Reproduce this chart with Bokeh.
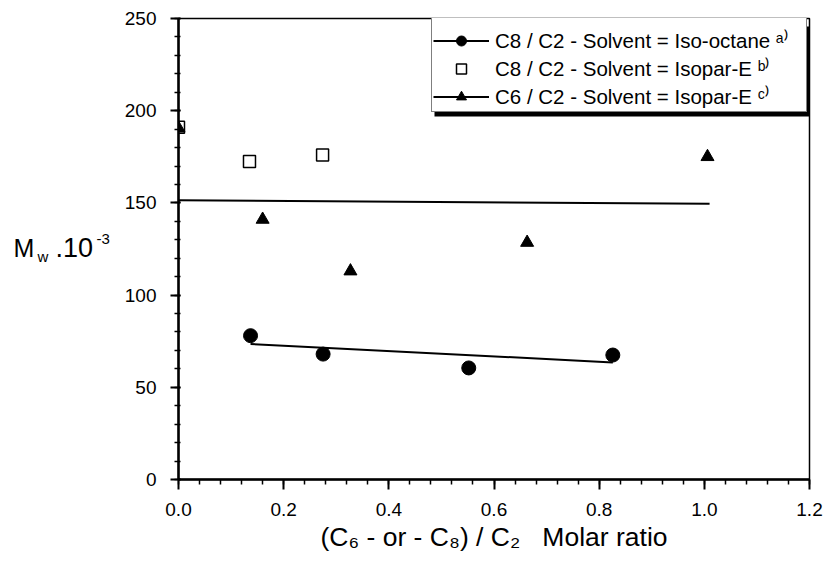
from bokeh.plotting import figure
from bokeh.models import (Range1d, Legend, LegendItem, Label, BoxAnnotation,
                          FixedTicker, CustomJSTickFormatter)
from bokeh.embed import file_html
from bokeh.resources import INLINE

# ---- data ----
iso_x = [0.137, 0.275, 0.552, 0.826]          # C8/C2, solvent iso-octane
iso_y = [78.0, 68.0, 60.5, 67.5]
iso_fit_x = [0.137, 0.826]
iso_fit_y = [73.5, 63.5]

isopar_c8_x = [0.0, 0.135, 0.274]             # C8/C2, solvent Isopar-E
isopar_c8_y = [191.0, 172.5, 176.0]

c6_x = [0.0, 0.16, 0.327, 0.663, 1.006]      # C6/C2, solvent Isopar-E
c6_y = [190.5, 141.0, 113.0, 128.5, 175.0]
c6_fit_x = [0.0, 1.01]
c6_fit_y = [151.5, 149.5]

labels = ["C8 / C2 - Solvent = Iso-octane",
          "C8 / C2 - Solvent = Isopar-E",
          "C6 / C2 - Solvent = Isopar-E"]
notes = ["\u1d43\u207e", "\u1d47\u207e", "\u1d9c\u207e"]      # a) b) c) superscripts
x_title = "(C\u2086 - or - C\u2088) / C\u2082\u00a0\u00a0 Molar ratio"

x_ticks = [0.0, 0.2, 0.4, 0.6, 0.8, 1.0, 1.2]
y_ticks = [0, 50, 100, 150, 200, 250]

FONT = "Liberation Sans"
W, H = 827, 563
FL, FR, FT, FB = 178, 809, 18, 479     # frame edges in canvas pixels
X0, X1, Y0, Y1 = 0.0, 1.2, 0.0, 250.0

p = figure(width=W, height=H, output_backend="svg", toolbar_location=None,
           x_range=Range1d(X0, X1), y_range=Range1d(Y0, Y1),
           min_border_left=FL, min_border_right=W - FR, min_border_top=FT,
           min_border_bottom=H - FB)
p.background_fill_color = "white"
p.border_fill_color = "white"
p.outline_line_color = "black"
p.outline_line_width = 1.5
p.xgrid.visible = False
p.ygrid.visible = False

for ax in (p.xaxis[0], p.yaxis[0]):
    ax.axis_line_width = 2.5
    ax.axis_line_color = "black"
    ax.major_tick_line_width = 2
    ax.minor_tick_line_width = 1.5
    ax.major_tick_line_color = "black"
    ax.minor_tick_line_color = "black"
    ax.major_label_text_font = FONT
    ax.major_label_text_font_size = "19px"
    ax.major_label_text_color = "black"

p.xaxis[0].ticker = FixedTicker(ticks=x_ticks,
                                minor_ticks=[round(i * 0.04, 2) for i in range(31)])
p.yaxis[0].ticker = FixedTicker(ticks=y_ticks,
                                minor_ticks=list(range(0, 251, 10)))
p.xaxis[0].formatter = CustomJSTickFormatter(code="return tick.toFixed(1)")
p.xaxis[0].major_tick_out = 10
p.xaxis[0].major_tick_in = 0
p.xaxis[0].minor_tick_out = 5
p.xaxis[0].minor_tick_in = 0
p.xaxis[0].major_label_standoff = 13
p.xaxis[0].axis_label = x_title
p.xaxis[0].axis_label_text_font = FONT
p.xaxis[0].axis_label_text_font_size = "26.5px"
p.xaxis[0].axis_label_text_font_style = "normal"
p.xaxis[0].axis_label_text_color = "black"
p.xaxis[0].axis_label_standoff = 3
p.yaxis[0].major_tick_out = 8
p.yaxis[0].major_tick_in = 2
p.yaxis[0].minor_tick_out = 4
p.yaxis[0].minor_tick_in = 2
p.yaxis[0].major_label_standoff = 14

# ---- glyphs ----
iso_fit = p.line(iso_fit_x, iso_fit_y, line_color="black", line_width=2)
iso_pts = p.scatter(iso_x, iso_y, marker="circle", size=14,
                    fill_color="black", line_color="black")
c6_fit = p.line(c6_fit_x, c6_fit_y, line_color="black", line_width=2)
sq_pts = p.scatter(isopar_c8_x, isopar_c8_y, marker="square", size=12,
                   fill_color="white", line_color="black", line_width=1.5)
c6_pts = p.scatter(c6_x, c6_y, marker="triangle", size=13,
                   fill_color="black", line_color="black")

# ---- legend with drop shadow ----
LG_L, LG_R, LG_T, LG_B = 431, 805, 23, 112   # canvas px
shadow = BoxAnnotation(left=LG_L + 3 - FL, right=LG_R + 4 - FL,
                       bottom=FB - LG_B - 4, top=FB - LG_T - 3,
                       left_units="screen", right_units="screen",
                       bottom_units="screen", top_units="screen",
                       fill_color="black", fill_alpha=1, line_color=None)
p.add_layout(shadow)

legend = Legend(items=[LegendItem(label=f"{lab} {n}", renderers=r)
                       for lab, n, r in zip(labels, notes,
                                            [[iso_fit, iso_pts], [sq_pts],
                                             [c6_fit, c6_pts]])],
                location=(LG_L - FL, FB - LG_B), orientation="vertical",
                border_line_color="black", border_line_width=1.5,
                background_fill_color="white", background_fill_alpha=1,
                padding=1, spacing=0, margin=0,
                glyph_width=56, glyph_height=25, label_height=25,
                label_width=LG_R - LG_L - 64, label_standoff=6,
                label_text_font=FONT, label_text_font_size="20.5px",
                label_text_color="black",
                title=" ", title_text_font_size="8px", title_standoff=2)
p.add_layout(legend)

# ---- y axis title M_w .10^-3 built from pieces in the left panel ----
def to_data(cx, cy):
    x = X0 + (cx - FL) / (FR - FL) * (X1 - X0)
    y = Y0 + (FB - cy) / (FB - FT) * (Y1 - Y0)
    return x, y

def piece(txt, cx, cy, size):
    x, y = to_data(cx, cy)
    p.add_layout(Label(x=x, y=y, text=txt, text_font=FONT, text_font_size=size,
                       text_color="black", text_baseline="alphabetic"), "left")

piece("M", 13, 247, "25px")
piece("w", 37, 256, "15px")
piece(".10", 55, 247, "27px")
piece("-3", 96, 238, "15px")

open("out.html", "w").write(file_html(p, INLINE))
